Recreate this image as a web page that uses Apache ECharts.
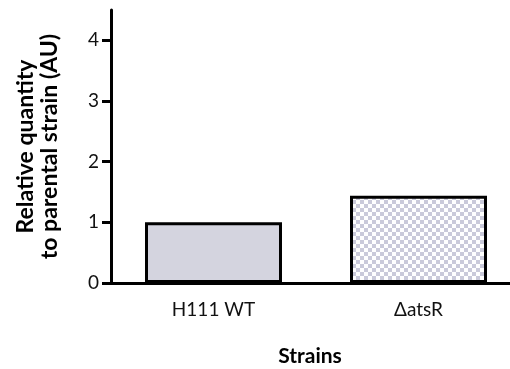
<!DOCTYPE html>
<html>
<head>
<meta charset="utf-8">
<script src="https://cdn.jsdelivr.net/npm/echarts@6/dist/echarts.min.js"></script>
<style>
  html, body { margin: 0; padding: 0; background: #fff; }
  #chart { width: 510px; height: 369px; }
</style>
</head>
<body>
<div id="chart"></div>
<script>
// Strains and their relative quantity (AU)
const strains = ['H111 WT', '\u0394atsR'];
const relativeQuantity = [1.0, 1.44];
const yTicks = [0, 1, 2, 3, 4];

const FONT = 'Lato';
const BAR_FILL = '#d4d4df';

// checkerboard fill for the mutant bar
function checkerPattern() {
  const c = document.createElement('canvas');
  c.width = 8; c.height = 8;
  const g = c.getContext('2d');
  g.fillStyle = '#ffffff';
  g.fillRect(0, 0, 8, 8);
  g.fillStyle = '#cacada';
  g.fillRect(0, 0, 4, 4);
  g.fillRect(4, 4, 4, 4);
  return c;
}

const fills = [BAR_FILL, { image: checkerPattern(), repeat: 'repeat' }];

const chart = echarts.init(document.getElementById('chart'), null, { renderer: 'canvas' });

chart.setOption({
  animation: false,
  backgroundColor: '#ffffff',
  grid: { left: 111, width: 410, top: 10, bottom: 86, containLabel: false, outerBoundsMode: 'none' },
  xAxis: {
    type: 'category',
    data: strains,
    name: 'Strains',
    nameLocation: 'middle',
    nameGap: 63,
    nameTextStyle: { fontFamily: FONT, fontWeight: 'bold', fontSize: 21, color: '#000', padding: [0, 12, 0, 0] },
    axisLine: { lineStyle: { color: '#000', width: 3 } },
    axisTick: { alignWithLabel: true, length: 9, lineStyle: { color: '#000', width: 3 } },
    axisLabel: { fontFamily: FONT, fontSize: 19, color: '#111', margin: 17 }
  },
  yAxis: {
    type: 'value',
    min: 0,
    max: 4.5,
    interval: 1,
    name: 'Relative quantity\nto parental strain (AU)',
    nameLocation: 'middle',
    nameGap: 49,
    nameTextStyle: { fontFamily: FONT, fontWeight: 'bold', fontSize: 23, color: '#000', lineHeight: 24 },
    splitLine: { show: false },
    axisLine: { show: true, lineStyle: { color: '#000', width: 3 } },
    axisTick: { show: true, length: 9, customValues: yTicks, lineStyle: { color: '#000', width: 3 } },
    axisLabel: { fontFamily: FONT, fontSize: 19, color: '#111', margin: 12, customValues: yTicks }
  },
  series: [{
    type: 'bar',
    barWidth: 137,
    data: relativeQuantity.map((v, i) => ({
      value: v,
      itemStyle: { color: fills[i], borderColor: '#000', borderWidth: 3 }
    }))
  }]
});
</script>
</body>
</html>
